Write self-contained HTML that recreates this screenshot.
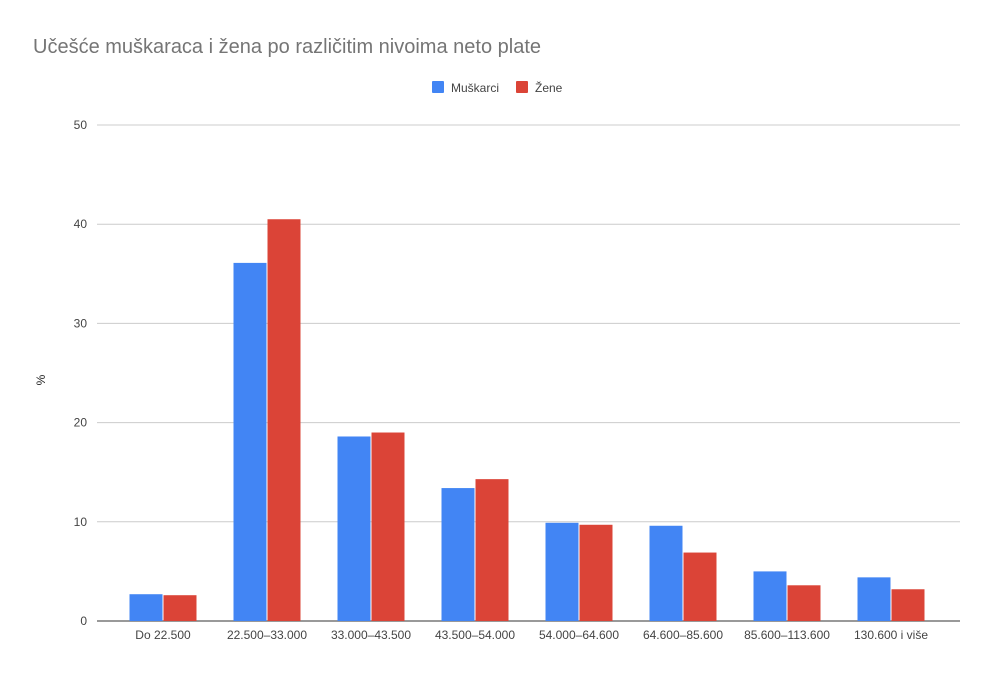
<!DOCTYPE html>
<html><head><meta charset="utf-8"><style>
body{margin:0;background:#fff;font-family:"Liberation Sans",Roboto,sans-serif}
</style></head><body>
<svg width="994" height="676" xmlns="http://www.w3.org/2000/svg" id="c">
<rect width="994" height="676" fill="#fff"/>
<text x="33" y="53" font-size="20" fill="#757575">Učešće muškaraca i žena po različitim nivoima neto plate</text>
<g>
<rect x="432" y="81" width="12" height="12" fill="#4285f4" rx="1"/>
<text x="451" y="92" font-size="12" fill="#444">Muškarci</text>
<rect x="516" y="81" width="12" height="12" fill="#db4437" rx="1"/>
<text x="535" y="92" font-size="12" fill="#444">Žene</text>
</g>
<text transform="translate(45,380) rotate(-90)" font-size="12" fill="#222" text-anchor="middle">%</text>
<g id="grid"></g><g id="bars"></g><g id="labels"></g>
</svg>
<script>
const categories=["Do 22.500","22.500–33.000","33.000–43.500","43.500–54.000","54.000–64.600","64.600–85.600","85.600–113.600","130.600 i više"];
const muskarci=[2.7,36.1,18.6,13.4,9.9,9.6,5.0,4.4];
const zene=[2.6,40.5,19.0,14.3,9.7,6.9,3.6,3.2];
const yTicks=[0,10,20,30,40,50];
const NS="http://www.w3.org/2000/svg";
const y0=621,y1=125,yMax=50,xL=111,xR=943,gL=97,gR=960;
const y=v=>y0-(v/yMax)*(y0-y1);
const step=(xR-xL)/categories.length;
const xc=i=>xL+step*(i+0.5);
function mk(t,a,p){const e=document.createElementNS(NS,t);for(const k in a)e.setAttribute(k,a[k]);p.appendChild(e);return e;}
const grid=document.getElementById('grid'),bars=document.getElementById('bars'),labels=document.getElementById('labels');
yTicks.forEach(t=>{
 const l=mk('line',{x1:gL,x2:gR,y1:y(t),y2:y(t),stroke:t===0?'#333':'#ccc','stroke-width':1},grid);
 
 
 const tx=mk('text',{x:87,y:y(t)+4,'font-size':12,fill:'#444','text-anchor':'end'},labels);
 tx.textContent=t;
 
 
});
const bw=33;
categories.forEach((c,i)=>{
 const cx=xc(i);
 const m=mk('rect',{x:cx-bw-0.5,y:y(muskarci[i]),width:bw,height:y0-y(muskarci[i]),fill:'#4285f4'},bars);
 
 
 const z=mk('rect',{x:cx+0.5,y:y(zene[i]),width:bw,height:y0-y(zene[i]),fill:'#db4437'},bars);
 
 
 const tx=mk('text',{x:cx,y:639,'font-size':12,fill:'#444','text-anchor':'middle'},labels);
 tx.textContent=c;
 
 
});
</script>
</body></html>
